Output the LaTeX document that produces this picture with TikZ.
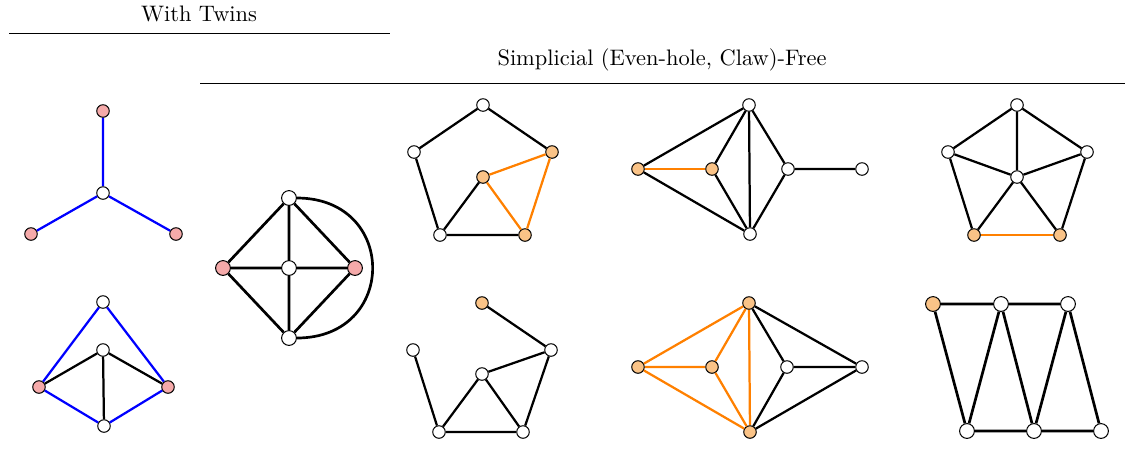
\documentclass[tikz,border=0pt]{standalone}
\definecolor{pinkfill}{RGB}{245,170,170}
\definecolor{orfill}{RGB}{250,195,135}
\definecolor{oredge}{RGB}{255,128,0}
\begin{document}
\begin{tikzpicture}[x=0.446pt,y=-0.446pt,
  v/.style={circle,draw=black,line width=0.45pt,fill=white,inner sep=0pt,minimum size=5.6pt},
  vb/.style={v,minimum size=6.6pt},
  pk/.style={fill=pinkfill},
  og/.style={fill=orfill},
  e/.style={line width=1pt,black},
  eb/.style={line width=1.2pt,black},
  be/.style={line width=1pt,blue},
  oe/.style={line width=1pt,oredge},
  rl/.style={line width=0.45pt,black}]
\useasboundingbox (0,0) rectangle (1126,456);
% headers
\node (h1) at (199,14) {With Twins};
\coordinate (r1a) at (9,33); \coordinate (r1b) at (390,33);
\draw[rl] (r1a) -- (r1b);
\node (h2) at (662,60) {Simplicial (Even-hole, Claw)-Free};
\coordinate (r2a) at (200,83); \coordinate (r2b) at (1125,83);
\draw[rl] (r2a) -- (r2b);
% graph 1: claw
\node[v,pk] (a1) at (103,111) {};
\node[v] (a0) at (103,193) {};
\node[v,pk] (a2) at (31,234) {};
\node[v,pk] (a3) at (176,234) {};
\draw[be] (a0)--(a1) (a0)--(a2) (a0)--(a3);
% graph 2
\node[v] (b1) at (103,302) {};
\node[v] (b2) at (103,350) {};
\node[v,pk] (b3) at (39,387) {};
\node[v,pk] (b4) at (168,387) {};
\node[v] (b5) at (104,426) {};
\draw[be] (b1)--(b3) (b1)--(b4) (b3)--(b5) (b4)--(b5);
\draw[e] (b3)--(b2) (b4)--(b2) (b2)--(b5);
% graph 3: wheel
\node[vb] (c1) at (289,198) {};
\node[vb,pk] (c2) at (223,268) {};
\node[vb] (c0) at (289,268) {};
\node[vb,pk] (c3) at (355,268) {};
\node[vb] (c4) at (289,338) {};
\draw[eb] (c1)--(c2) (c1)--(c3) (c1)--(c0) (c2)--(c0) (c0)--(c3) (c0)--(c4) (c2)--(c4) (c3)--(c4);
\draw[eb] (c1) to[out=0,in=0,looseness=1.85] (c4);
% graph 4
\node[v] (d1) at (483,105) {};
\node[v] (d2) at (414,152) {};
\node[v,og] (d3) at (552,152) {};
\node[v,og] (d0) at (483,177) {};
\node[v] (d4) at (440,235) {};
\node[v,og] (d5) at (525,235) {};
\draw[e] (d1)--(d2) (d1)--(d3) (d2)--(d4) (d4)--(d5) (d4)--(d0);
\draw[oe] (d0)--(d3) (d0)--(d5) (d3)--(d5);
% graph 5
\node[v,og] (f1) at (482,303) {};
\node[v] (f2) at (413,350) {};
\node[v] (f3) at (551,350) {};
\node[v] (f0) at (482,374) {};
\node[v] (f4) at (439,432) {};
\node[v] (f5) at (523,432) {};
\draw[e] (f1)--(f3) (f2)--(f4) (f3)--(f0) (f3)--(f5) (f0)--(f4) (f0)--(f5) (f4)--(f5);
% graph 6
\node[v,og] (g1) at (638,169) {};
\node[v,og] (g2) at (712,169) {};
\node[v] (g3) at (749,105) {};
\node[v] (g4) at (750,234) {};
\node[v] (g5) at (788,169) {};
\node[v] (g6) at (862,169) {};
\draw[oe] (g1)--(g2);
\draw[e] (g1)--(g3) (g1)--(g4) (g2)--(g3) (g2)--(g4) (g3)--(g4) (g3)--(g5) (g4)--(g5) (g5)--(g6);
% graph 7
\node[v,og] (k1) at (638,367) {};
\node[v,og] (k2) at (712,367) {};
\node[v,og] (k3) at (749,303) {};
\node[v,og] (k4) at (750,432) {};
\node[v] (k5) at (787,367) {};
\node[v] (k6) at (862,367) {};
\draw[oe] (k1)--(k3) (k1)--(k2) (k1)--(k4) (k2)--(k3) (k2)--(k4) (k3)--(k4);
\draw[e] (k3)--(k5) (k3)--(k6) (k4)--(k5) (k4)--(k6) (k5)--(k6);
% graph 8
\node[v] (m1) at (1017,105) {};
\node[v] (m2) at (948,152) {};
\node[v] (m3) at (1087,152) {};
\node[v] (m0) at (1017,177) {};
\node[v,og] (m4) at (974,235) {};
\node[v,og] (m5) at (1060,235) {};
\draw[e] (m1)--(m2) (m1)--(m3) (m1)--(m0) (m2)--(m0) (m3)--(m0) (m2)--(m4) (m3)--(m5) (m0)--(m4) (m0)--(m5);
\draw[oe] (m4)--(m5);
% graph 9
\node[vb,og] (n1) at (933,304) {};
\node[vb] (n2) at (1001,304) {};
\node[vb] (n3) at (1068,304) {};
\node[vb] (n4) at (967,431) {};
\node[vb] (n5) at (1034,431) {};
\node[vb] (n6) at (1101,431) {};
\draw[eb] (n1)--(n2) (n2)--(n3) (n1)--(n4) (n4)--(n2) (n2)--(n5) (n5)--(n3) (n3)--(n6) (n4)--(n5) (n5)--(n6);
\end{tikzpicture}
\end{document}
